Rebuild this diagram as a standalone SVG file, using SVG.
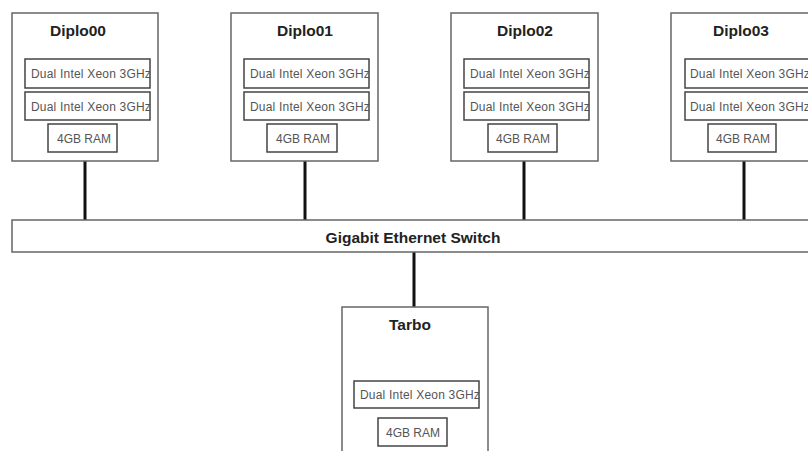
<svg xmlns="http://www.w3.org/2000/svg" width="808" height="451" viewBox="0 0 808 451">
<style>
.outer{fill:#fff;stroke:#666;stroke-width:1.5}
.inner{fill:#fff;stroke:#444;stroke-width:1.5}
.title{font-family:"Liberation Sans",Arial,sans-serif;font-weight:bold;font-size:15.5px;fill:#222}
.cpu{font-family:"Liberation Sans",Arial,sans-serif;font-size:12px;letter-spacing:0.2px;fill:#555}
.ram{font-family:"Liberation Sans",Arial,sans-serif;font-size:12px;fill:#555;text-anchor:middle}
.conn{stroke:#111;stroke-width:3;fill:none}
</style>
<rect width="808" height="451" fill="#fff"/>
<g id="connectors">
<line class="conn" x1="85" y1="161" x2="85" y2="220"/>
<line class="conn" x1="305" y1="161" x2="305" y2="220"/>
<line class="conn" x1="524" y1="161" x2="524" y2="220"/>
<line class="conn" x1="744" y1="161" x2="744" y2="220"/>
<line class="conn" x1="414" y1="252" x2="414" y2="307"/>
</g>
<g id="diplo00">
<rect class="outer" x="12" y="13" width="146" height="148"/>
<text class="title" x="78" y="36" text-anchor="middle">Diplo00</text>
<rect class="inner" x="25" y="59" width="125" height="29"/>
<text class="cpu" x="31" y="78">Dual Intel Xeon 3GHz</text>
<rect class="inner" x="25" y="92" width="125" height="28"/>
<text class="cpu" x="31" y="111">Dual Intel Xeon 3GHz</text>
<rect class="inner" x="48" y="124" width="69" height="28"/>
<text class="ram" x="84" y="143">4GB RAM</text>
</g>
<g id="diplo01">
<rect class="outer" x="231" y="13" width="147" height="148"/>
<text class="title" x="305" y="36" text-anchor="middle">Diplo01</text>
<rect class="inner" x="244" y="59" width="125" height="29"/>
<text class="cpu" x="250" y="78">Dual Intel Xeon 3GHz</text>
<rect class="inner" x="244" y="92" width="125" height="28"/>
<text class="cpu" x="250" y="111">Dual Intel Xeon 3GHz</text>
<rect class="inner" x="267" y="124" width="70" height="28"/>
<text class="ram" x="303" y="143">4GB RAM</text>
</g>
<g id="diplo02">
<rect class="outer" x="451" y="13" width="147" height="148"/>
<text class="title" x="525" y="36" text-anchor="middle">Diplo02</text>
<rect class="inner" x="464" y="59" width="125" height="29"/>
<text class="cpu" x="470" y="78">Dual Intel Xeon 3GHz</text>
<rect class="inner" x="464" y="92" width="125" height="28"/>
<text class="cpu" x="470" y="111">Dual Intel Xeon 3GHz</text>
<rect class="inner" x="488" y="124" width="69" height="28"/>
<text class="ram" x="523" y="143">4GB RAM</text>
</g>
<g id="diplo03">
<rect class="outer" x="671" y="13" width="147" height="148"/>
<text class="title" x="741" y="36" text-anchor="middle">Diplo03</text>
<rect class="inner" x="685" y="59" width="125" height="29"/>
<text class="cpu" x="690" y="78">Dual Intel Xeon 3GHz</text>
<rect class="inner" x="685" y="92" width="125" height="28"/>
<text class="cpu" x="690" y="111">Dual Intel Xeon 3GHz</text>
<rect class="inner" x="708" y="124" width="68" height="28"/>
<text class="ram" x="743" y="143">4GB RAM</text>
</g>
<g id="switch">
<rect class="outer" x="12" y="220" width="810" height="32"/>
<text class="title" x="413" y="243" text-anchor="middle">Gigabit Ethernet Switch</text>
</g>
<g id="tarbo">
<rect class="outer" x="342" y="307" width="146" height="160"/>
<text class="title" x="410" y="330" text-anchor="middle">Tarbo</text>
<rect class="inner" x="354" y="381" width="125" height="27"/>
<text class="cpu" x="360" y="399">Dual Intel Xeon 3GHz</text>
<rect class="inner" x="378" y="418" width="69" height="28"/>
<text class="ram" x="413" y="437">4GB RAM</text>
</g>
</svg>
